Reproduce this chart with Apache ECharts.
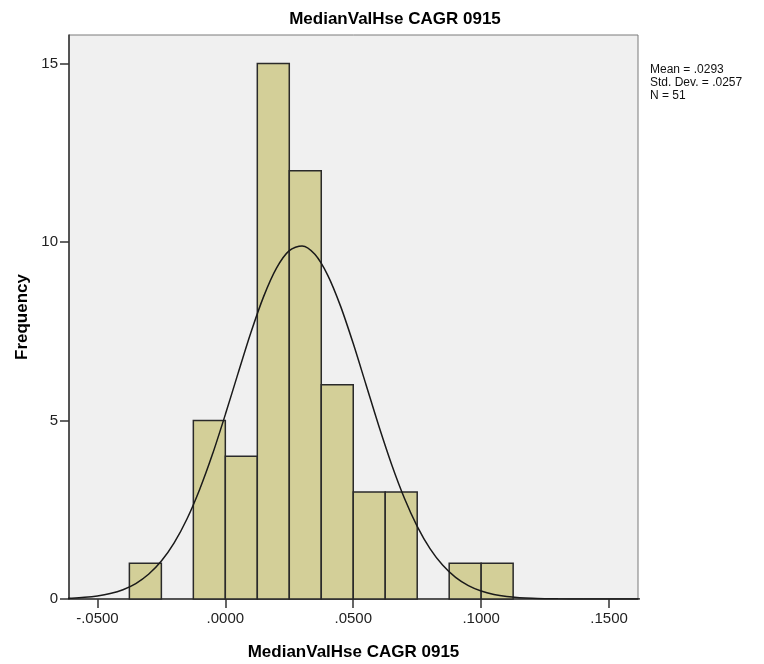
<!DOCTYPE html>
<html>
<head>
<meta charset="utf-8">
<script src="https://cdn.jsdelivr.net/npm/echarts@6/dist/echarts.min.js"></script>
<style>
  html, body { margin: 0; padding: 0; background: #fff; }
  #main { width: 764px; height: 664px; }
</style>
</head>
<body>
<div id="main"></div>
<script>
// histogram bins (edges) and counts
var binStart = [-0.0375, -0.025, -0.0125, 0.0, 0.0125, 0.025, 0.0375, 0.05, 0.0625, 0.075, 0.0875, 0.1];
var binEnd   = [-0.025, -0.0125, 0.0, 0.0125, 0.025, 0.0375, 0.05, 0.0625, 0.075, 0.0875, 0.1, 0.1125];
var counts   = [1, 0, 5, 4, 15, 12, 6, 3, 3, 0, 1, 1];

// normal curve
var curveX = [-0.065, -0.06, -0.055, -0.05, -0.045, -0.04, -0.035, -0.03, -0.025, -0.02, -0.015, -0.01, -0.005,
  0.0, 0.005, 0.01, 0.015, 0.02, 0.025, 0.03, 0.035, 0.04, 0.045, 0.05, 0.055, 0.06, 0.065, 0.07, 0.075,
  0.08, 0.085, 0.09, 0.095, 0.1, 0.105, 0.11, 0.115, 0.12, 0.125, 0.13, 0.14, 0.15, 0.165];
var curveY = [0.012, 0.024, 0.046, 0.085, 0.152, 0.261, 0.433, 0.692, 1.062, 1.571, 2.240, 3.075, 4.059,
  5.167, 6.327, 7.465, 8.478, 9.269, 9.758, 9.892, 9.656, 9.075, 8.212, 7.156, 6.002, 4.846, 3.770, 2.824, 2.037,
  1.413, 0.945, 0.608, 0.377, 0.225, 0.129, 0.071, 0.038, 0.019, 0.010, 0.005, 0.001, 0.0, 0.0];

var xTicks = [-0.05, 0, 0.05, 0.1, 0.15];
var yTicks = [0, 5, 10, 15];
var stats = ['Mean = .0293', 'Std. Dev. = .0257', 'N = 51'];
var titleText = 'MedianValHse CAGR 0915';

var font = '"Liberation Sans", Arial, sans-serif';

function fmtX(v) {
  var s = Math.abs(v).toFixed(4).replace(/^0/, '');
  return (v < 0 ? '-' : '') + s;
}

var bars = [];
for (var i = 0; i < counts.length; i++) {
  if (counts[i] > 0) bars.push([binStart[i], binEnd[i], counts[i]]);
}
var curve = [];
for (var j = 0; j < curveX.length; j++) curve.push([curveX[j], curveY[j]]);

var myChart = echarts.init(document.getElementById('main'));
var option = {
  backgroundColor: '#ffffff',
  animation: false,
  title: {
    text: titleText,
    left: 390,
    top: 6,
    textAlign: 'center',
    textStyle: { fontFamily: font, fontSize: 17, fontWeight: 'bold', color: '#000' }
  },
  grid: {
    left: 69, right: 126, top: 35, bottom: 65,
    outerBoundsMode: 'none',
    containLabel: false,
    show: true,
    backgroundColor: '#f0f0f0',
    borderColor: '#7a7a7a',
    borderWidth: 1
  },
  xAxis: {
    type: 'value',
    min: -0.0611,
    max: 0.1613,
    name: titleText,
    nameLocation: 'middle',
    nameGap: 45,
    nameTextStyle: { fontFamily: font, fontSize: 17, fontWeight: 'bold', color: '#000' },
    axisLine: { onZero: false, lineStyle: { color: '#333', width: 1.5 } },
    axisTick: { customValues: xTicks, length: 9, lineStyle: { color: '#333', width: 1.5 } },
    axisLabel: {
      customValues: xTicks, formatter: fmtX, margin: 12,
      fontFamily: font, fontSize: 15, color: '#222'
    },
    splitLine: { show: false }
  },
  yAxis: {
    type: 'value',
    min: 0,
    max: 15.8,
    name: 'Frequency',
    nameLocation: 'middle',
    nameGap: 38,
    nameTextStyle: { fontFamily: font, fontSize: 17, fontWeight: 'bold', color: '#000' },
    axisLine: { show: true, onZero: false, lineStyle: { color: '#333', width: 1.5 } },
    axisTick: { show: true, customValues: yTicks, length: 9, lineStyle: { color: '#333', width: 1.5 } },
    axisLabel: { customValues: yTicks, margin: 11, fontFamily: font, fontSize: 15, color: '#222' },
    splitLine: { show: false }
  },
  series: [
    {
      type: 'custom',
      data: bars,
      renderItem: function (params, api) {
        var p0 = api.coord([api.value(0), api.value(2)]);
        var p1 = api.coord([api.value(1), 0]);
        return {
          type: 'rect',
          shape: { x: p0[0], y: p0[1], width: p1[0] - p0[0], height: p1[1] - p0[1] },
          style: { fill: '#d3cf98', stroke: '#2a2a2a', lineWidth: 1.5 }
        };
      },
      z: 2
    },
    {
      type: 'line',
      data: curve,
      smooth: 0.3,
      showSymbol: false,
      clip: true,
      lineStyle: { color: '#1a1a1a', width: 1.5 },
      z: 3
    }
  ],
  graphic: [
    {
      type: 'text',
      left: 650,
      top: 63,
      style: {
        text: stats.join('\n'),
        fontFamily: font,
        fontSize: 12,
        lineHeight: 13,
        fill: '#111'
      }
    }
  ]
};
myChart.setOption(option);
</script>
</body>
</html>
